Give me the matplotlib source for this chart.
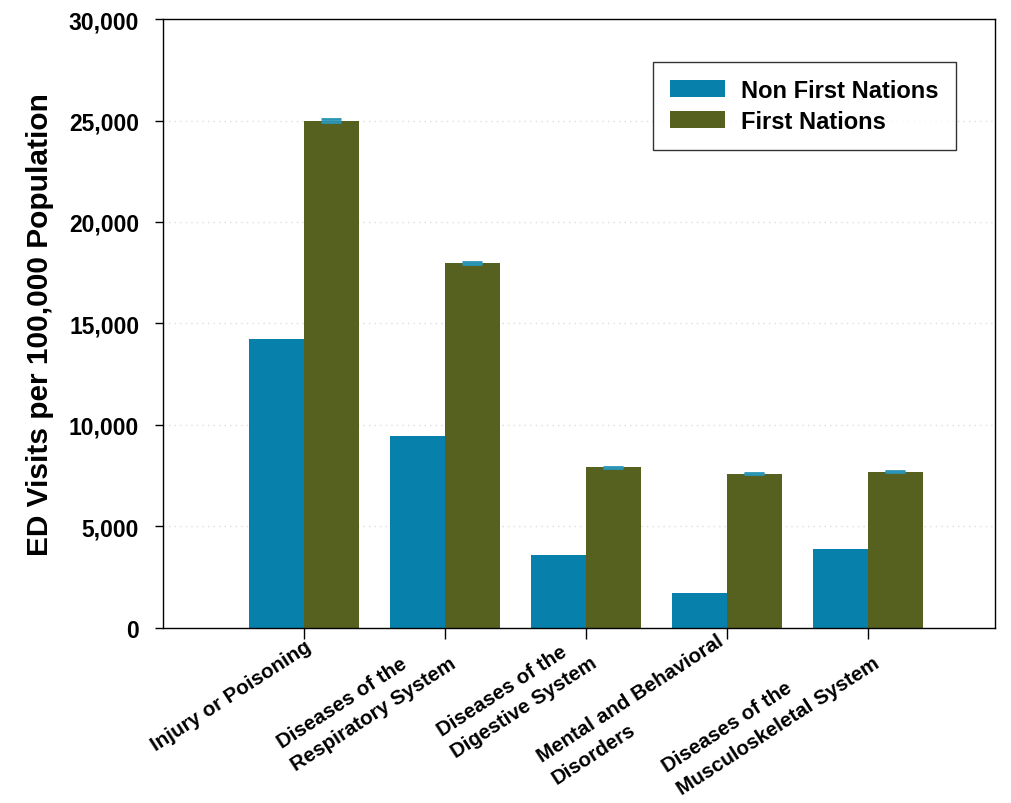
import numpy as np
import matplotlib
matplotlib.use("Agg")
import matplotlib.pyplot as plt
from matplotlib.ticker import FuncFormatter

categories = ["Injury or Poisoning",
              "Diseases of the\nRespiratory System",
              "Diseases of the\nDigestive System",
              "Mental and Behavioral\nDisorders",
              "Diseases of the\nMusculoskeletal System"]
non_first_nations = [14250, 9450, 3600, 1700, 3900]
first_nations = [25000, 18000, 7900, 7600, 7700]
fn_err = [60, 50, 40, 35, 40]

plt.rcParams['font.family'] = ['Liberation Sans', 'DejaVu Sans']

fig = plt.figure(figsize=(10.11, 8.04), dpi=100)
ax = fig.add_axes([0.161, 0.218, 0.823, 0.757])

x = np.arange(len(categories))
w = 0.39
blue = "#0880ac"
green = "#566120"

ax.bar(x - w/2, non_first_nations, w, color=blue, label="Non First Nations")
ax.bar(x + w/2, first_nations, w, color=green, label="First Nations",
       yerr=fn_err, error_kw=dict(ecolor="#2a95b5", capsize=7, elinewidth=1, capthick=2))

ax.set_xlim(-1, 4.9)
ax.set_ylim(0, 30000)
ax.set_yticks(range(0, 30001, 5000))
ax.yaxis.set_major_formatter(FuncFormatter(lambda v, p: f"{int(v):,}"))
ax.yaxis.grid(True, linestyle=(0, (1, 3)), color="#dddddd", linewidth=1)
ax.set_axisbelow(True)

# category labels placed by hand so the two-line ones sit like the original
ax.set_xticks(x)
ax.set_xticklabels([])
for xi, cat in zip(x, categories):
    off = (-10, -3) if "\n" in cat else (0, -9)
    ax.annotate(cat, xy=(xi, 0), xycoords=ax.get_xaxis_transform(),
                xytext=off, textcoords="offset pixels",
                rotation=33, ha="right", va="top", rotation_mode="anchor",
                multialignment="left", linespacing=1.5,
                fontsize=14.8, fontweight="bold", annotation_clip=False)

for lab in ax.get_yticklabels():
    lab.set_fontsize(16.5)
    lab.set_fontweight("bold")
ax.tick_params(axis="y", length=6, width=1, pad=11)
ax.tick_params(axis="x", length=8, width=1)
for s in ax.spines.values():
    s.set_linewidth(1)

ax.set_ylabel("ED Visits per 100,000 Population", fontsize=21.5, fontweight="bold", labelpad=11)

leg = ax.legend(loc="upper right", bbox_to_anchor=(0.953, 0.93),
                prop=dict(weight="bold", size=17), fancybox=False, edgecolor="black",
                handlelength=2.3, handleheight=0.75, borderpad=0.72, labelspacing=0.35,
                handletextpad=0.7, borderaxespad=0)
leg.get_frame().set_linewidth(1)

fig.savefig("out.png", dpi=100)
